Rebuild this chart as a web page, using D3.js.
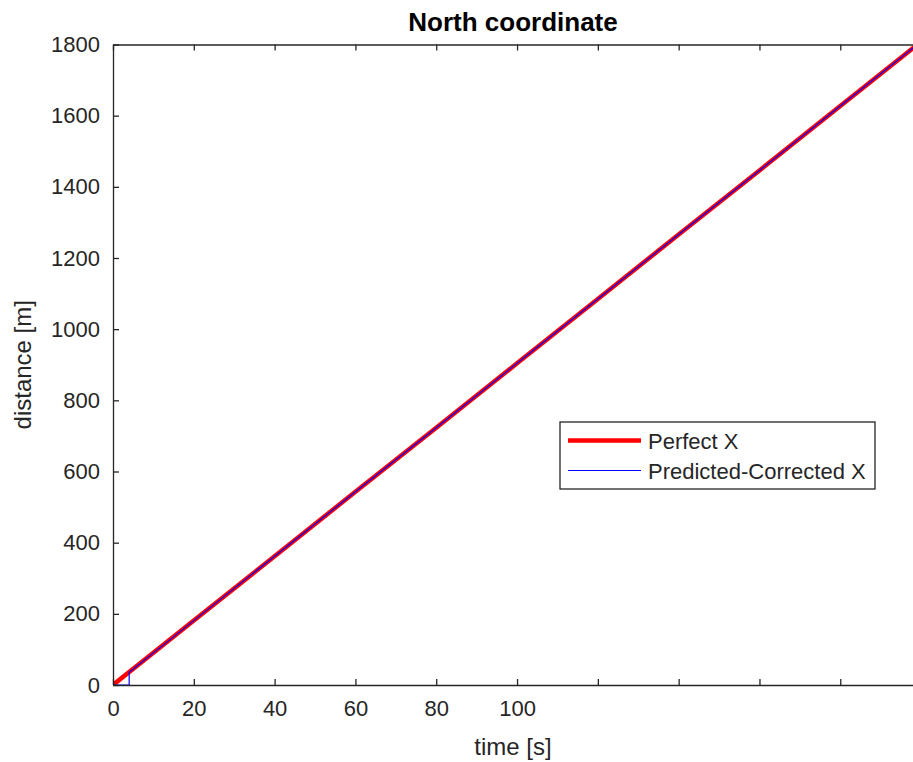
<!DOCTYPE html>
<html>
<head>
<meta charset="utf-8">
<script src="https://cdn.jsdelivr.net/npm/d3@7"></script>
<style>
  body { margin: 0; background: #fff; }
  text { font-family: "Liberation Sans", Arial, sans-serif; }
</style>
</head>
<body>
<script>
// values
var timeS = [0, 20, 40, 60, 80, 100, 120, 140, 160, 180, 200];
var perfectX = [0, 181, 362, 543, 723, 904, 1085, 1266, 1446, 1627, 1808];
var predTime = [0, 4, 4, 20, 40, 60, 80, 100, 120, 140, 160, 180, 200];
var predX = [0, 0, 36, 181, 362, 543, 723, 904, 1085, 1266, 1446, 1627, 1808];
var xTicks = [0, 20, 40, 60, 80, 100, 120, 140, 160, 180];
var xTickLabels = ["0", "20", "40", "60", "80", "100"];
var yTicks = [0, 200, 400, 600, 800, 1000, 1200, 1400, 1600, 1800];

var W = 913, H = 762;
var mLeft = 113, mRight = 913, mTop = 44.5, mBottom = 685;
var axisCol = "#262626";

var svg = d3.select("body").append("svg")
    .attr("width", W)
    .attr("height", H);

var x = d3.scaleLinear().domain([0, 198]).range([mLeft, mRight]);
var y = d3.scaleLinear().domain([0, 1800]).range([mBottom, mTop]);

svg.append("clipPath").attr("id", "plotclip")
  .append("rect")
    .attr("x", mLeft).attr("y", mTop)
    .attr("width", mRight - mLeft).attr("height", mBottom - mTop);

var line = d3.line().x(d => x(d[0])).y(d => y(d[1]));

var plot = svg.append("g").attr("clip-path", "url(#plotclip)");

plot.append("path")
    .datum(timeS.map((t, i) => [t, perfectX[i]]))
    .attr("d", line)
    .attr("fill", "none")
    .attr("stroke", "#ff0000")
    .attr("stroke-width", 4.5);

plot.append("path")
    .datum(predTime.map((t, i) => [t, predX[i]]))
    .attr("d", line)
    .attr("fill", "none")
    .attr("stroke", "#0000ff")
    .attr("stroke-width", 1.2);

// axes, ticks pointing inwards like matlab
var xAxis = svg.append("g")
    .attr("transform", "translate(0," + mBottom + ")")
    .call(d3.axisBottom(x).tickValues(xTicks).tickSizeInner(-6).tickSizeOuter(0)
        .tickPadding(15)
        .tickFormat((d, i) => xTickLabels[i] || ""));

var xTop = svg.append("g")
    .attr("transform", "translate(0," + mTop + ")")
    .call(d3.axisTop(x).tickValues(xTicks).tickSizeInner(-6).tickSizeOuter(0).tickFormat(""));

var yAxis = svg.append("g")
    .attr("transform", "translate(" + mLeft + ",0)")
    .call(d3.axisLeft(y).tickValues(yTicks).tickSizeInner(-6).tickSizeOuter(0)
        .tickPadding(13).tickFormat(d3.format("d")));

[xAxis, xTop, yAxis].forEach(function(g) {
  g.select(".domain").attr("stroke", axisCol).attr("stroke-width", 1.3);
  g.selectAll(".tick line").attr("stroke", axisCol).attr("stroke-width", 1.3);
  g.selectAll(".tick text").attr("fill", axisCol)
    .style("font-size", "22px")
    .style("font-family", "'Liberation Sans', Arial, sans-serif");
});

// title & labels
svg.append("text")
    .attr("x", (mLeft + mRight) / 2).attr("y", 31)
    .attr("text-anchor", "middle")
    .style("font-size", "26px").style("font-weight", "bold")
    .attr("fill", "#000")
    .text("North coordinate");

svg.append("text")
    .attr("x", (mLeft + mRight) / 2).attr("y", 755)
    .attr("text-anchor", "middle")
    .style("font-size", "24px")
    .attr("fill", axisCol)
    .text("time [s]");

svg.append("text")
    .attr("transform", "translate(31," + (mTop + mBottom) / 2 + ") rotate(-90)")
    .attr("text-anchor", "middle")
    .style("font-size", "24px")
    .attr("fill", axisCol)
    .text("distance [m]");

// legend
var leg = svg.append("g").attr("transform", "translate(560,422)");
leg.append("rect")
    .attr("x", 0).attr("y", 0).attr("width", 315).attr("height", 67)
    .attr("fill", "#fff").attr("stroke", axisCol).attr("stroke-width", 1.3);

var legItems = [
  {label: "Perfect X", color: "#ff0000", w: 4.5},
  {label: "Predicted-Corrected X", color: "#0000ff", w: 1.2}
];
legItems.forEach(function(d, i) {
  var cy = 18.5 + i * 30;
  leg.append("line")
      .attr("x1", 8).attr("x2", 81).attr("y1", cy).attr("y2", cy)
      .attr("stroke", d.color).attr("stroke-width", d.w);
  leg.append("text")
      .attr("x", 88).attr("y", cy + 8)
      .style("font-size", "22px")
      .attr("fill", axisCol)
      .text(d.label);
});
</script>
</body>
</html>
